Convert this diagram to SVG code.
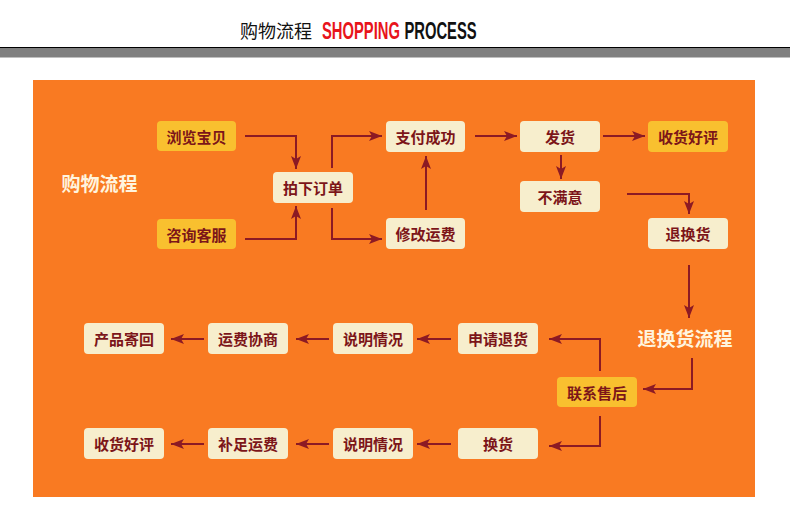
<svg xmlns="http://www.w3.org/2000/svg" width="790" height="512" viewBox="0 0 790 512">
<style>
.box{fill:#F7EECD;}
.ybox{fill:#F9C02F;}
.lbl{font-family:"Noto Sans CJK SC","Noto Sans",sans-serif;font-weight:bold;font-size:15px;fill:#7C1519;text-anchor:middle;dominant-baseline:central;}
.big{font-family:"Noto Sans CJK SC","Noto Sans",sans-serif;font-weight:bold;font-size:19px;fill:#FFF4DE;text-anchor:middle;dominant-baseline:central;}
.hd{font-family:"Liberation Sans",Arial,sans-serif;font-weight:bold;font-size:24px;}
.con path{fill:none;stroke:#8C1A24;stroke-width:2;marker-end:url(#ah);}
</style>
<defs>
<marker id="ah" markerUnits="userSpaceOnUse" markerWidth="14" markerHeight="12" refX="13" refY="5" orient="auto">
<path d="M0,0 L13,5 L0,10 L3,5 Z" fill="#8C1A24"/>
</marker>
</defs>
<rect width="790" height="512" fill="#FFFFFF"/>
<g id="header">
<text x="240" y="38" font-family="'Noto Sans CJK SC',sans-serif" font-size="18" fill="#111">购物流程</text>
<text class="hd" transform="translate(322,39) scale(0.615,1)" x="0" y="0" fill="#E8141B">SHOPPING</text>
<text class="hd" transform="translate(404.5,39) scale(0.615,1)" x="0" y="0" fill="#111">PROCESS</text>
<rect x="0" y="47" width="790" height="1.5" fill="#000"/>
<rect x="0" y="48.5" width="790" height="9" fill="#808080"/>
</g>
<rect id="panel" x="33" y="80" width="722" height="417" fill="#F97A22"/>
<g id="t1"><text class="big" x="99.5" y="182">购物流程</text></g>
<g id="t2"><text class="big" x="685" y="337">退换货流程</text></g>
<g id="n1"><rect class="ybox" x="157" y="121" width="79" height="30" rx="4"/><text class="lbl" x="196.5" y="136">浏览宝贝</text></g>
<g id="n2"><rect class="ybox" x="157" y="219" width="79" height="30" rx="4"/><text class="lbl" x="196.5" y="234">咨询客服</text></g>
<g id="n3"><rect class="box" x="273" y="172" width="80" height="31" rx="4"/><text class="lbl" x="313" y="187.5">拍下订单</text></g>
<g id="n4"><rect class="box" x="386" y="121" width="79" height="31" rx="4"/><text class="lbl" x="425.5" y="136.5">支付成功</text></g>
<g id="n5"><rect class="box" x="386" y="218" width="79" height="31" rx="4"/><text class="lbl" x="425.5" y="233.5">修改运费</text></g>
<g id="n6"><rect class="box" x="520" y="121" width="80" height="31" rx="4"/><text class="lbl" x="560" y="136.5">发货</text></g>
<g id="n7"><rect class="ybox" x="648" y="121" width="80" height="31" rx="4"/><text class="lbl" x="688" y="136.5">收货好评</text></g>
<g id="n8"><rect class="box" x="520" y="181" width="80" height="31" rx="4"/><text class="lbl" x="560" y="196.5">不满意</text></g>
<g id="n9"><rect class="box" x="648" y="218" width="80" height="31" rx="4"/><text class="lbl" x="688" y="233.5">退换货</text></g>
<g id="n10"><rect class="ybox" x="557" y="377" width="80" height="30" rx="4"/><text class="lbl" x="597" y="392">联系售后</text></g>
<g id="r1a"><rect class="box" x="458" y="323" width="80" height="31" rx="4"/><text class="lbl" x="498" y="338.5">申请退货</text></g>
<g id="r1b"><rect class="box" x="333" y="323" width="80" height="31" rx="4"/><text class="lbl" x="373" y="338.5">说明情况</text></g>
<g id="r1c"><rect class="box" x="208" y="323" width="80" height="31" rx="4"/><text class="lbl" x="248" y="338.5">运费协商</text></g>
<g id="r1d"><rect class="box" x="84" y="323" width="80" height="31" rx="4"/><text class="lbl" x="124" y="338.5">产品寄回</text></g>
<g id="r2a"><rect class="box" x="458" y="428" width="80" height="31" rx="4"/><text class="lbl" x="498" y="443.5">换货</text></g>
<g id="r2b"><rect class="box" x="333" y="428" width="80" height="31" rx="4"/><text class="lbl" x="373" y="443.5">说明情况</text></g>
<g id="r2c"><rect class="box" x="208" y="428" width="80" height="31" rx="4"/><text class="lbl" x="248" y="443.5">补足运费</text></g>
<g id="r2d"><rect class="box" x="84" y="428" width="80" height="31" rx="4"/><text class="lbl" x="124" y="443.5">收货好评</text></g>
<g id="connectors" class="con">
<path d="M245,136 H296 V169"/>
<path d="M245,239 H296 V206"/>
<path d="M332,168 V136 H382"/>
<path d="M332,208 V239 H382"/>
<path d="M426,210 V156"/>
<path d="M475,136 H517"/>
<path d="M603,136 H645"/>
<path d="M561,155 V179"/>
<path d="M627,194 H689 V214"/>
<path d="M689,265 V318"/>
<path d="M692,358 V389 H643"/>
<path d="M600,371 V339 H549"/>
<path d="M600,416 V446 H549"/>
<path d="M451,339 H417"/>
<path d="M329,339 H296"/>
<path d="M204,339 H171"/>
<path d="M451,444 H417"/>
<path d="M329,444 H296"/>
<path d="M204,444 H171"/>
</g>
</svg>
